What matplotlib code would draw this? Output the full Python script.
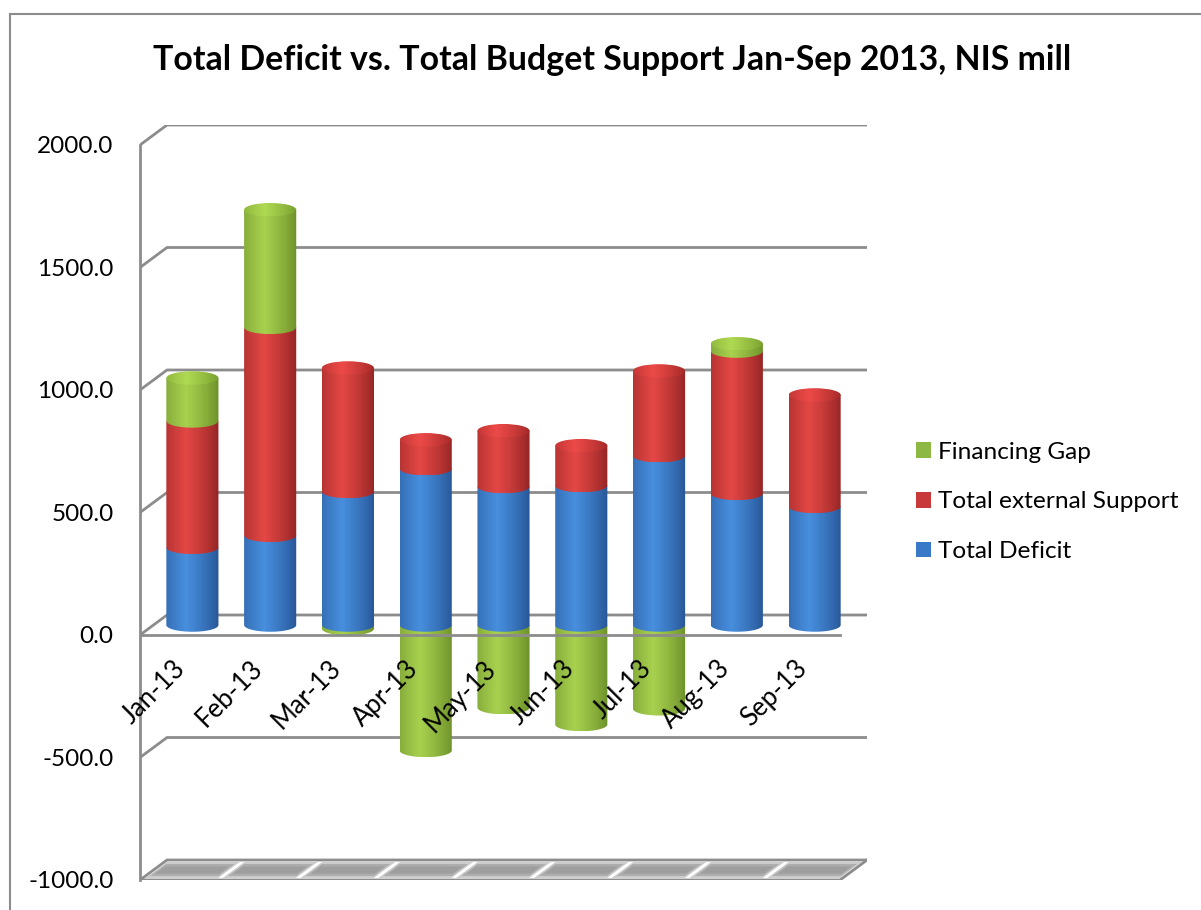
import numpy as np
import matplotlib
matplotlib.use('Agg')
import matplotlib.pyplot as plt
from matplotlib.patches import PathPatch, Ellipse, Polygon, Patch
from matplotlib.path import Path
from matplotlib.lines import Line2D

plt.rcParams['font.family'] = ['Lato', 'DejaVu Sans']

# Values (NIS mill)
months = ['Jan-13', 'Feb-13', 'Mar-13', 'Apr-13', 'May-13', 'Jun-13', 'Jul-13', 'Aug-13', 'Sep-13']
total_deficit = [317, 366, 545, 638, 565, 569, 691, 537, 484]
external_support = [516, 849, 504, 118, 228, 163, 346, 581, 455]
financing_gap = [175, 480, -15, -512, -337, -406, -342, 30, 0]
y_ticks = [-1000, -500, 0, 500, 1000, 1500, 2000]

# (light, dark) colours for the cylinder shading
blue = ((0.28, 0.56, 0.87), (0.15, 0.33, 0.58))
red = ((0.89, 0.28, 0.27), (0.57, 0.14, 0.14))
green = ((0.66, 0.82, 0.31), (0.42, 0.56, 0.16))

W, H = 1201, 910
fig = plt.figure(figsize=(W / 100, H / 100), dpi=100)

# fake 3d: depth offset in data units
DX = 0.347
DY = 81.6
BAR_W = 0.67
EH = 55

ax = fig.add_axes([140 / W, 1 - 880 / H, 727 / W, 755 / H])
ax.set_xlim(-0.5, 8.5 + DX)
ax.set_ylim(-1000, 2000 + DY)
for s in ['top', 'right', 'bottom']:
    ax.spines[s].set_visible(False)
ax.spines['left'].set_bounds(-1000, 2000)
ax.spines['left'].set_color('#8c8c8c')
ax.spines['left'].set_linewidth(2)
ax.set_xticks([])
ax.set_yticks(y_ticks)
ax.set_yticklabels([f'{v:.1f}' for v in y_ticks])
ax.tick_params(axis='y', length=0, pad=19, labelsize=17.5)

grid_c = '#8c8c8c'
x0, x1 = -0.5, 8.5

# back wall gridlines with left wall diagonal
for v in y_ticks:
    ax.plot([x0, x0 + DX, x1 + DX], [v, v + DY, v + DY], color=grid_c, lw=2, zorder=1,
            solid_capstyle='butt')

# front line of the zero plane
ax.plot([x0, x1], [0, 0], color=grid_c, lw=2, zorder=30)

# floor at the bottom
ax.plot([x0, x1, x1 + DX], [-1000, -1000, -1000 + DY], color=grid_c, lw=2, zorder=2)
for i in range(len(months)):
    for g, d0, d1, c in [(0.03, 0.1, 0.9, '#cccccc'), (0.06, 0.2, 0.8, '#adadad'),
                         (0.09, 0.32, 0.68, '#9e9e9e')]:
        xa, xb = i - 0.5 + g, i + 0.5 - g
        pts = [(xa + DX * d0, -1000 + DY * d0), (xb + DX * d0, -1000 + DY * d0),
               (xb + DX * d1, -1000 + DY * d1), (xa + DX * d1, -1000 + DY * d1)]
        ax.add_patch(Polygon(pts, closed=True, facecolor=c, edgecolor='none', zorder=2))


def gradient(light, dark, nx=80):
    t = np.linspace(0, 1, nx)
    u = np.clip(1 - np.abs(t - 0.38) / 0.62, 0, 1) ** 0.8
    light = np.array(light)
    dark = np.array(dark)
    row = dark[None, :] + (light - dark)[None, :] * u[:, None]
    return np.stack([row, row])


def segment(xc, y0, y1, cols, z, top=False):
    # cylinder body: rectangle plus the front half of the bottom ellipse
    y0 += DY / 2
    y1 += DY / 2
    th = np.linspace(0, -np.pi, 50)
    arc = list(zip(xc + BAR_W / 2 * np.cos(th), y0 + EH / 2 * np.sin(th)))
    verts = [(xc - BAR_W / 2, y1), (xc + BAR_W / 2, y1)] + arc + [(xc - BAR_W / 2, y1)]
    patch = PathPatch(Path(verts, closed=True), facecolor='none', edgecolor='none', zorder=z)
    ax.add_patch(patch)
    im = ax.imshow(gradient(*cols), extent=(xc - BAR_W / 2, xc + BAR_W / 2, y0 - EH / 2, y1),
                   origin='lower', aspect='auto', zorder=z, interpolation='bilinear')
    im.set_clip_path(patch)
    if top:
        lt = tuple(min(1, c * 1.04) for c in cols[0])
        dk = tuple(c * 1.1 for c in cols[1])
        el = Ellipse((xc, y1), BAR_W, EH, facecolor='none', edgecolor='none', zorder=z + 0.5)
        ax.add_patch(el)
        im2 = ax.imshow(gradient(lt, dk), extent=(xc - BAR_W / 2, xc + BAR_W / 2, y1 - EH / 2, y1 + EH / 2),
                        origin='lower', aspect='auto', zorder=z + 0.5, interpolation='bilinear')
        im2.set_clip_path(el)


for i in range(len(months)):
    xc = i + DX / 2
    z = 10
    # negative financing gap goes below zero
    if financing_gap[i] < 0:
        segment(xc, financing_gap[i], 0, green, z)
    stack = [(total_deficit[i], blue), (external_support[i], red)]
    if financing_gap[i] > 0:
        stack.append((financing_gap[i], green))
    base = 0
    for k, (v, cols) in enumerate(stack):
        segment(xc, base, base + v, cols, z + 1 + k, top=(k == len(stack) - 1))
        base += v

ax.set_xlim(-0.5, 8.5 + DX)
ax.set_ylim(-1000, 2000 + DY)

# category labels, rotated under the zero plane
for i, m in enumerate(months):
    ax.text(i + 0.03, -120, m, rotation=45, rotation_mode='anchor', ha='right', va='center',
            fontsize=18.5, zorder=40)

fig.text(612 / W, 1 - 60 / H, 'Total Deficit vs. Total Budget Support Jan-Sep 2013, NIS mill',
         ha='center', va='center', fontsize=24.4, fontweight='bold')

handles = [Patch(facecolor='#8db843', label='Financing Gap'),
           Patch(facecolor='#c83a3a', label='Total external Support'),
           Patch(facecolor='#3a78c8', label='Total Deficit')]
fig.legend(handles=handles, loc='center left', bbox_to_anchor=(916 / W, 1 - 502 / H),
           frameon=False, fontsize=17.6, handlelength=0.62, handleheight=0.62,
           handletextpad=0.3, labelspacing=1.17, borderpad=0, borderaxespad=0)

# chart area border
fig.add_artist(Line2D([10 / W, 10 / W], [0, 1 - 14 / H], color='#8c8c8c', lw=1.5))
fig.add_artist(Line2D([10 / W, 1], [1 - 14 / H, 1 - 14 / H], color='#8c8c8c', lw=1.5))

fig.savefig('out.png', dpi=100)
